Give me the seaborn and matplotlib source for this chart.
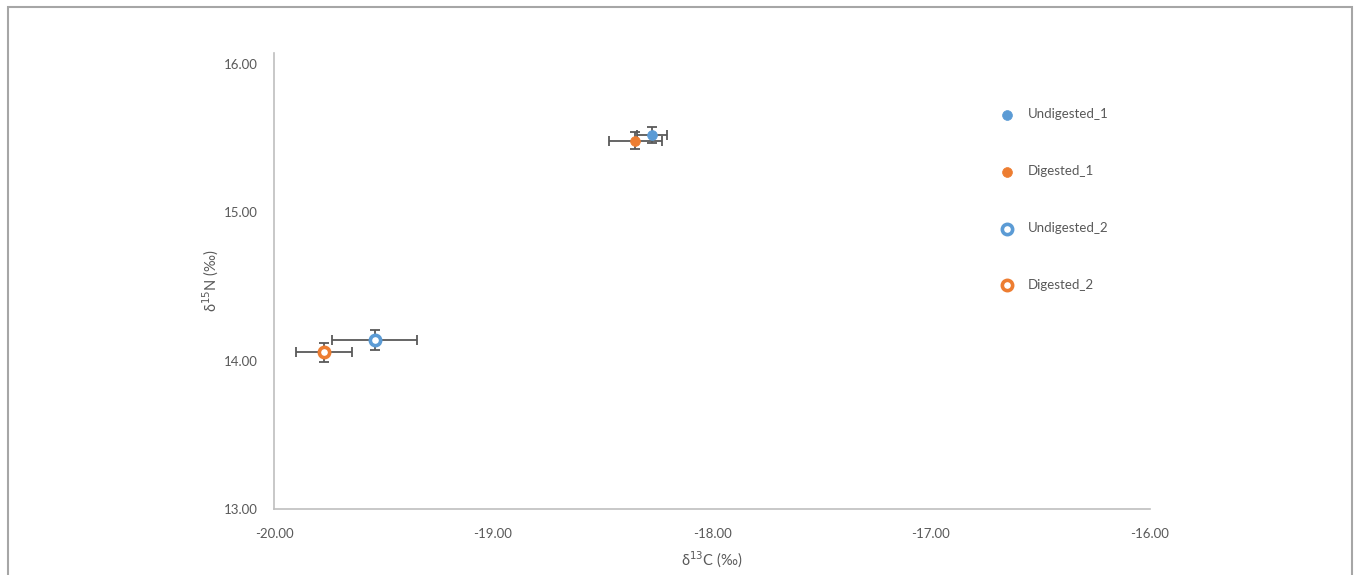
import matplotlib
matplotlib.use("Agg")
import matplotlib.pyplot as plt
from matplotlib.patches import Rectangle
import seaborn as sns
import pandas as pd

# Sample means and standard deviations (per mil)
samples = ["Undigested_1", "Digested_1", "Undigested_2", "Digested_2"]
d13c = [-18.275, -18.35, -19.54, -19.77]
d15n = [15.52, 15.483, 14.139, 14.056]
d13c_sd = [0.068, 0.12, 0.194, 0.128]
d15n_sd = [0.055, 0.057, 0.066, 0.064]
colors = ["#5B9BD5", "#ED7D31", "#5B9BD5", "#ED7D31"]
hollow = [False, False, True, True]

x_ticks = [-20.0, -19.0, -18.0, -17.0, -16.0]
y_ticks = [13.0, 14.0, 15.0, 16.0]

df = pd.DataFrame({"sample": samples, "d13c": d13c, "d15n": d15n,
                   "sx": d13c_sd, "sy": d15n_sd})

sns.set_theme(style="white")
plt.rcParams["font.family"] = ["Lato", "DejaVu Sans"]

fig = plt.figure(figsize=(13.54, 5.75), dpi=100)
ax = fig.add_axes([274 / 1354, 1 - 509 / 575, (1150 - 274) / 1354, (509 - 53) / 575])

# error bars underneath the markers
for _, r in df.iterrows():
    ax.errorbar(r["d13c"], r["d15n"], xerr=r["sx"], yerr=r["sy"], fmt="none",
                ecolor="#595959", elinewidth=1.3, capsize=3.5, capthick=1.3, zorder=2)

for i, r in df.iterrows():
    sub = df.iloc[[i]]
    if hollow[i]:
        sns.scatterplot(data=sub, x="d13c", y="d15n", ax=ax, marker="o", s=55,
                        facecolor="white", edgecolor=colors[i], linewidth=2.6,
                        label=r["sample"], zorder=3)
    else:
        sns.scatterplot(data=sub, x="d13c", y="d15n", ax=ax, marker="o", s=50,
                        color=colors[i], edgecolor=colors[i], linewidth=0.5,
                        label=r["sample"], zorder=3)

ax.set_xlim(-20, -16)
ax.set_ylim(13, 16 + 11 / 148.3)
ax.set_xticks(x_ticks)
ax.set_yticks(y_ticks)
ax.set_xticklabels([f"{v:.2f}" for v in x_ticks])
ax.set_yticklabels([f"{v:.2f}" for v in y_ticks])
ax.tick_params(axis="both", length=0, labelsize=9.5, labelcolor="#595959")
ax.tick_params(axis="x", pad=14)
ax.tick_params(axis="y", pad=12)

for side in ["top", "right"]:
    ax.spines[side].set_visible(False)
for side in ["left", "bottom"]:
    ax.spines[side].set_color("#BFBFBF")
    ax.spines[side].set_linewidth(1.2)

ax.set_xlabel("δ$^{13}$C (‰)", fontsize=10.5, color="#595959", labelpad=7)
ax.set_ylabel("δ$^{15}$N (‰)", fontsize=10.5, color="#595959", labelpad=2)

leg = ax.legend(loc="upper left", bbox_to_anchor=((995 - 274) / 876, 1 - (103 - 53) / 456),
                frameon=False, fontsize=9.5, labelspacing=3.4, handletextpad=1.1,
                handlelength=1.0, borderaxespad=0)
for t in leg.get_texts():
    t.set_color("#595959")

# outer frame around the chart area
fig.patches.append(Rectangle((8 / 1354, -0.05), (1352 - 8) / 1354, 1.05 - 7 / 575,
                             transform=fig.transFigure, fill=False,
                             edgecolor="#A6A6A6", linewidth=1.5))

fig.savefig("out.png", dpi=100)
